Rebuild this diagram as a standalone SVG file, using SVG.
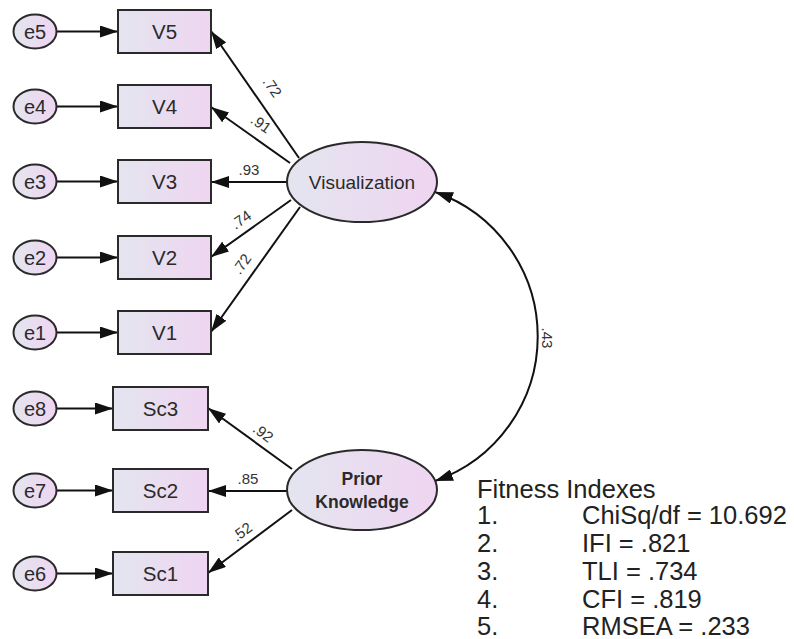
<svg xmlns="http://www.w3.org/2000/svg" width="794" height="639" viewBox="0 0 794 639">
<defs>
<linearGradient id="g" x1="0" y1="0" x2="1" y2="0">
<stop offset="0" stop-color="#e3e5ef"/>
<stop offset="1" stop-color="#efd5f1"/>
</linearGradient>
<marker id="ah" viewBox="0 0 18 12" refX="18" refY="6" markerWidth="18" markerHeight="12" markerUnits="userSpaceOnUse" orient="auto-start-reverse">
<path d="M0,0 L18,6 L0,12 Z" fill="#111"/>
</marker>
<style>
.n{fill:url(#g);stroke:#2a2a2a;stroke-width:2}
.t{font-family:"Liberation Sans",Arial,sans-serif;fill:#2a2a2a;text-anchor:middle}
.bt{font-size:20.5px}
.et{font-size:20px}
.lt{font-family:"Liberation Sans",Arial,sans-serif;fill:#333;font-size:15px;text-anchor:middle}
.c{stroke:#111;stroke-width:2;fill:none;marker-end:url(#ah)}
.fi{font-family:"Liberation Sans",Arial,sans-serif;fill:#222;font-size:25.5px}
</style>
</defs>
<rect width="794" height="639" fill="#fff"/>
<g id="connectors">
<line class="c" x1="57" y1="31.5" x2="118" y2="31.5"/>
<line class="c" x1="57" y1="106.5" x2="118" y2="106.5"/>
<line class="c" x1="57" y1="181.5" x2="118" y2="181.5"/>
<line class="c" x1="57" y1="257.5" x2="118" y2="257.5"/>
<line class="c" x1="57" y1="332.5" x2="118" y2="332.5"/>
<line class="c" x1="57" y1="408.5" x2="113" y2="408.5"/>
<line class="c" x1="57" y1="490.5" x2="113" y2="490.5"/>
<line class="c" x1="57" y1="573.5" x2="113" y2="573.5"/>
<line class="c" x1="299" y1="158" x2="211" y2="31"/>
<line class="c" x1="290" y1="163" x2="211" y2="107"/>
<line class="c" x1="287" y1="182" x2="211" y2="182"/>
<line class="c" x1="291" y1="200" x2="211" y2="257"/>
<line class="c" x1="300" y1="207" x2="211" y2="332"/>
<line class="c" x1="292" y1="469" x2="208" y2="408"/>
<line class="c" x1="287" y1="491" x2="208" y2="491"/>
<line class="c" x1="292" y1="510" x2="208" y2="573"/>
<path class="c" style="marker-start:url(#ah)" d="M435,192 A153,153 0 0 1 435,481"/>
<text class="lt" transform="translate(268,90) rotate(55)">.72</text>
<text class="lt" transform="translate(258,128) rotate(35)">.91</text>
<text class="lt" x="249" y="175">.93</text>
<text class="lt" transform="translate(244,224) rotate(-35)">.74</text>
<text class="lt" transform="translate(246,267) rotate(-55)">.72</text>
<text class="lt" transform="translate(260,437) rotate(37)">.92</text>
<text class="lt" x="248" y="484">.85</text>
<text class="lt" transform="translate(245,536) rotate(-37)">.52</text>
<text class="lt" transform="translate(542,338) rotate(90)">.43</text>
</g>
<g id="e5"><ellipse class="n" cx="35" cy="31.5" rx="21.5" ry="17"/><text class="t et" x="35" y="38.5">e5</text></g>
<g id="e4"><ellipse class="n" cx="35" cy="106.5" rx="21.5" ry="17"/><text class="t et" x="35" y="113.5">e4</text></g>
<g id="e3"><ellipse class="n" cx="35" cy="181.5" rx="21.5" ry="17"/><text class="t et" x="35" y="188.5">e3</text></g>
<g id="e2"><ellipse class="n" cx="35" cy="257.5" rx="21.5" ry="17"/><text class="t et" x="35" y="264.5">e2</text></g>
<g id="e1"><ellipse class="n" cx="35" cy="332.5" rx="21.5" ry="17"/><text class="t et" x="35" y="339.5">e1</text></g>
<g id="e8"><ellipse class="n" cx="35" cy="408.5" rx="21.5" ry="17"/><text class="t et" x="35" y="415.5">e8</text></g>
<g id="e7"><ellipse class="n" cx="35" cy="490.5" rx="21.5" ry="17"/><text class="t et" x="35" y="497.5">e7</text></g>
<g id="e6"><ellipse class="n" cx="35" cy="573.5" rx="21.5" ry="17"/><text class="t et" x="35" y="580.5">e6</text></g>
<g id="V5"><rect class="n" x="118" y="10" width="93" height="43"/><text class="t bt" x="164.5" y="38.5">V5</text></g>
<g id="V4"><rect class="n" x="118" y="85" width="93" height="43"/><text class="t bt" x="164.5" y="113.5">V4</text></g>
<g id="V3"><rect class="n" x="118" y="160" width="93" height="43"/><text class="t bt" x="164.5" y="188.5">V3</text></g>
<g id="V2"><rect class="n" x="118" y="236" width="93" height="43"/><text class="t bt" x="164.5" y="264.5">V2</text></g>
<g id="V1"><rect class="n" x="118" y="311" width="93" height="43"/><text class="t bt" x="164.5" y="339.5">V1</text></g>
<g id="Sc3"><rect class="n" x="113" y="387" width="95" height="43"/><text class="t bt" x="160.5" y="415.5">Sc3</text></g>
<g id="Sc2"><rect class="n" x="113" y="469" width="95" height="43"/><text class="t bt" x="160.5" y="497.5">Sc2</text></g>
<g id="Sc1"><rect class="n" x="113" y="552" width="95" height="43"/><text class="t bt" x="160.5" y="580.5">Sc1</text></g>
<g id="Visualization"><ellipse class="n" cx="362" cy="182" rx="75" ry="40"/><text class="t" style="font-size:19px" x="362" y="188.5">Visualization</text></g>
<g id="PriorKnowledge"><ellipse class="n" cx="362" cy="490" rx="75" ry="40"/><text class="t" style="font-size:17.5px;font-weight:bold" x="362" y="485">Prior</text><text class="t" style="font-size:17.5px;font-weight:bold" x="362" y="508">Knowledge</text></g>
<g id="fitness">
<text class="fi" x="477" y="498">Fitness Indexes</text>
<text class="fi" x="477" y="524">1.</text><text class="fi" x="582" y="524">ChiSq/df = 10.692</text>
<text class="fi" x="477" y="552">2.</text><text class="fi" x="582" y="552">IFI = .821</text>
<text class="fi" x="477" y="580">3.</text><text class="fi" x="582" y="580">TLI = .734</text>
<text class="fi" x="477" y="608">4.</text><text class="fi" x="582" y="608">CFI = .819</text>
<text class="fi" x="477" y="635">5.</text><text class="fi" x="582" y="635">RMSEA = .233</text>
</g>
</svg>
